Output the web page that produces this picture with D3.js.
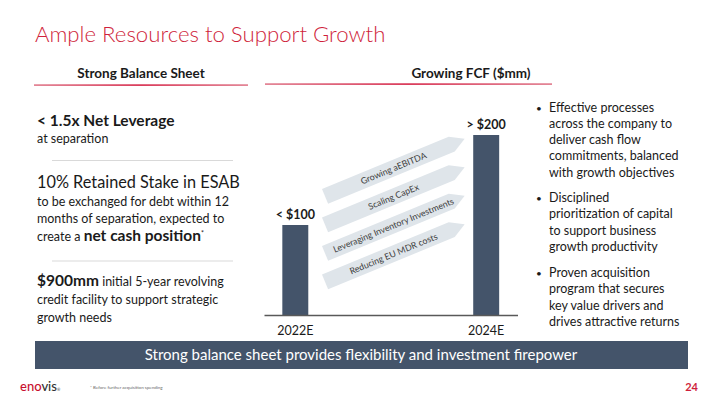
<!DOCTYPE html>
<html><head><meta charset="utf-8">
<script src="https://cdn.jsdelivr.net/npm/d3@7"></script>
<style>
html,body{margin:0;padding:0;background:#fff;}
svg{display:block;font-family:Lato,"Open Sans",sans-serif;}
</style></head>
<body><svg id="c" width="720" height="405"></svg>
<script>
const categories = ["2022E", "2024E"];
const fcfValues = [100, 200];
const valueLabels = ["< $100", "> $200"];
const drivers = ["Growing aEBITDA", "Scaling CapEx", "Leveraging Inventory Investments", "Reducing EU MDR costs"];
const bullets = [
  ["Effective processes", "across the company to", "deliver cash flow", "commitments, balanced", "with growth objectives"],
  ["Disciplined", "prioritization of capital", "to support business", "growth productivity"],
  ["Proven acquisition", "program that secures", "key value drivers and", "drives attractive returns"]
];

const svg = d3.select("#c");
const RED = "#cf1f3c", SLATE = "#44546a", TXT = "#1a1a1a";

const defs = svg.append("defs");
const g1 = defs.append("linearGradient").attr("id","rl").attr("x1","0").attr("x2","1").attr("y1","0").attr("y2","0");
g1.append("stop").attr("offset","0").attr("stop-color","#e07a8c");
g1.append("stop").attr("offset","0.5").attr("stop-color","#d6284a");
g1.append("stop").attr("offset","1").attr("stop-color","#e07a8c");

// Title
svg.append("text").attr("x",35).attr("y",42).attr("fill",RED)
  .attr("font-size",22.2).attr("font-weight",300).text("Ample Resources to Support Growth");

// Section headers
svg.append("text").attr("x",141).attr("y",78).attr("text-anchor","middle").attr("font-size",13.5)
  .attr("font-weight",700).attr("fill",TXT).text("Strong Balance Sheet");
svg.append("rect").attr("x",34).attr("width",214).attr("y",84.3).attr("height",1.6).attr("fill","url(#rl)");
svg.append("text").attr("x",471).attr("y",78).attr("text-anchor","middle").attr("font-size",13.5)
  .attr("font-weight",700).attr("fill",TXT).text("Growing FCF ($mm)");
svg.append("rect").attr("x",265).attr("width",287).attr("y",83.3).attr("height",1.6).attr("fill","url(#rl)");

// Left column
const L = svg.append("g").attr("fill",TXT);
L.append("text").attr("x",37).attr("y",126).attr("font-size",15.5).attr("font-weight",700).text("< 1.5x Net Leverage");
L.append("text").attr("x",37).attr("y",143).attr("font-size",12.5).text("at separation");
svg.append("line").attr("x1",52).attr("x2",233).attr("y1",160.5).attr("y2",160.5).attr("stroke","#d9d9d9");
L.append("text").attr("x",37).attr("y",188).attr("font-size",16.3).text("10% Retained Stake in ESAB");
L.append("text").attr("x",37).attr("y",206).attr("font-size",12.5).text("to be exchanged for debt within 12");
L.append("text").attr("x",37).attr("y",223).attr("font-size",12.5).text("months of separation, expected to");
const t4 = L.append("text").attr("x",37).attr("y",241).attr("font-size",12.5);
t4.append("tspan").text("create a ");
t4.append("tspan").attr("font-size",15.5).attr("font-weight",700).text("net cash position");
t4.append("tspan").attr("font-size",7).attr("dy",-5).text("*");
svg.append("line").attr("x1",52).attr("x2",233).attr("y1",261).attr("y2",261).attr("stroke","#d9d9d9");
const t5 = L.append("text").attr("x",37).attr("y",286).attr("font-size",12.5);
t5.append("tspan").attr("font-size",15.5).attr("font-weight",700).text("$900mm");
t5.append("tspan").text(" initial 5-year revolving");
L.append("text").attr("x",37).attr("y",304).attr("font-size",12.5).text("credit facility to support strategic");
L.append("text").attr("x",37).attr("y",322).attr("font-size",12.5).text("growth needs");

// Chart
const x = d3.scaleBand().domain(categories).range([264, 517.5]).paddingInner(0.864).paddingOuter(0.096);
const y = d3.scaleLinear().domain([0, 200]).range([315, 135]);

// arrows (drivers)
const ang = -22.4, len = 137, tip = 14, th = 16;
const arrowG = svg.append("g");
drivers.forEach((d, i) => {
  const gx = 322, gy = 189 + i * 28.5;
  const a = arrowG.append("g").attr("transform", `translate(${gx},${gy}) rotate(${ang})`);
  a.append("path").attr("d", `M0,0L${len},0L${len+tip},${th/2}L${len},${th}L0,${th}Z`).attr("fill", "#dfe5ea");
  a.append("text").attr("x", 74).attr("y", th/2 + 3.2).attr("text-anchor","middle")
    .attr("font-size", 8.8).attr("fill", "#404040").text(d);
});

svg.append("g").selectAll("rect").data(categories).join("rect")
  .attr("x", d => x(d)).attr("width", x.bandwidth())
  .attr("y", (d, i) => y(fcfValues[i])).attr("height", (d, i) => y(0) - y(fcfValues[i]))
  .attr("fill", SLATE);

svg.append("g").selectAll("text").data(categories).join("text")
  .attr("x", d => x(d) + x.bandwidth()/2).attr("y", (d, i) => y(fcfValues[i]) - 6)
  .attr("text-anchor","middle").attr("font-size",12.5).attr("font-weight",700).attr("fill",TXT)
  .text((d, i) => valueLabels[i]);

const xAxis = svg.append("g").attr("transform","translate(0,315)")
  .call(d3.axisBottom(x).tickSize(0).tickPadding(11));
xAxis.select(".domain").attr("stroke","#595959").attr("stroke-width",1.3);
xAxis.selectAll("text").attr("font-size",12.5).attr("fill",TXT).attr("font-family","Lato");

// Bullets
const B = svg.append("g").attr("fill",TXT).attr("font-size",12.5);
const starts = [111.5, 202, 277];
bullets.forEach((lines, i) => {
  B.append("text").attr("x",536).attr("y",starts[i]).attr("font-size",10).text("•");
  lines.forEach((ln, j) => {
    B.append("text").attr("x",549).attr("y",starts[i] + j*16.3).text(ln);
  });
});

// Banner
svg.append("rect").attr("x",35).attr("y",341).attr("width",653).attr("height",28).attr("fill",SLATE);
svg.append("text").attr("x",361).attr("y",360).attr("text-anchor","middle").attr("fill","#fff")
  .attr("font-size",15).text("Strong balance sheet provides flexibility and investment firepower");

// Footer
const logo = svg.append("text").attr("x",20).attr("y",391).attr("font-size",13).attr("font-weight",500);
logo.append("tspan").attr("fill","#c8102e").text("eno");
logo.append("tspan").attr("fill","#333").text("vis");
logo.append("tspan").attr("fill","#333").attr("font-size",4).text("®");
svg.append("text").attr("x",90).attr("y",389).attr("font-size",4.5).attr("fill","#666").text("* Before further acquisition spending");
svg.append("text").attr("x",698).attr("y",391).attr("text-anchor","end").attr("font-size",11).attr("font-weight",700)
  .attr("fill",RED).text("24");
</script></body></html>
